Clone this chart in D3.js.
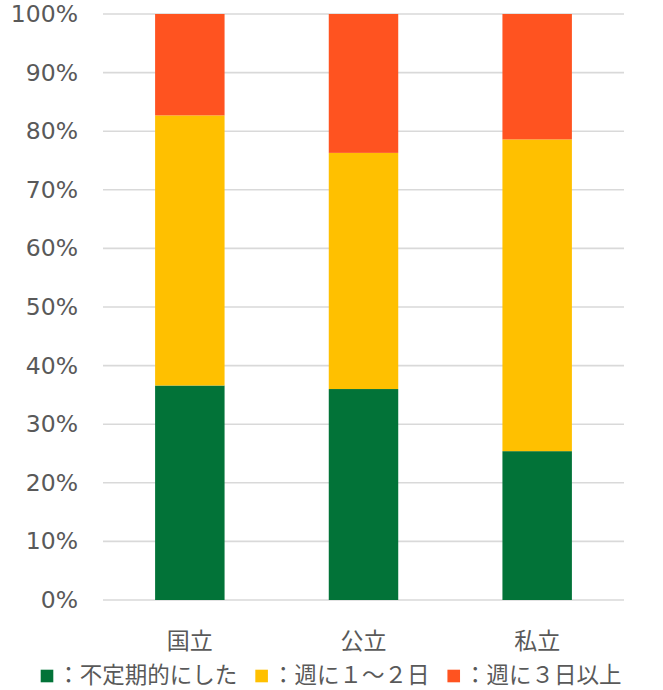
<!DOCTYPE html>
<html><head><meta charset="utf-8">
<script src="https://cdn.jsdelivr.net/npm/d3@7"></script>
<style>
html,body{margin:0;padding:0;background:#fff;}
svg{display:block;}
</style></head>
<body>
<svg id="chart" width="663" height="690"></svg>
<script>
const categories = ["国立", "公立", "私立"];
const seriesNames = ["：不定期的にした", "：週に１～２日", "：週に３日以上"];
const irregular = [36.6, 36.0, 25.4];
const weekly12 = [46.1, 40.3, 53.2];
const weekly3plus = [17.3, 23.7, 21.4];
const tickValues = [0, 10, 20, 30, 40, 50, 60, 70, 80, 90, 100];
const tickLabels = ["0%", "10%", "20%", "30%", "40%", "50%", "60%", "70%", "80%", "90%", "100%"];
const colors = ["#027338", "#FFC000", "#FF5320"];

const svg = d3.select("#chart");
const margin = {left: 103, right: 39, top: 14, bottom: 90};
const W = 663, H = 690;

const y = d3.scaleLinear().domain([0, 100]).range([H - margin.bottom, margin.top]);
const x = d3.scaleBand().domain(categories).range([margin.left, W - margin.right])
  .paddingInner(0.6).paddingOuter(0.3);

// gridlines
svg.append("g").selectAll("line").data(tickValues).join("line")
  .attr("x1", margin.left).attr("x2", W - margin.right)
  .attr("y1", d => y(d)).attr("y2", d => y(d))
  .attr("stroke", "#d9d9d9").attr("stroke-width", 1.6);

// y tick labels
svg.append("g").selectAll("text").data(tickValues).join("text")
  .attr("x", 78).attr("y", d => y(d))
  .attr("text-anchor", "end").attr("dominant-baseline", "central")
  .attr("font-family", "'DejaVu Sans', Verdana, sans-serif")
  .attr("font-size", 23.5).attr("fill", "#595959")
  .text((d, i) => tickLabels[i]);

// stacked data
const table = categories.map((c, i) => ({cat: c, s0: irregular[i], s1: weekly12[i], s2: weekly3plus[i]}));
const stack = d3.stack().keys(["s0", "s1", "s2"])(table);

svg.append("g").selectAll("g").data(stack).join("g")
  .attr("fill", (d, i) => colors[i])
  .selectAll("rect").data(d => d).join("rect")
  .attr("x", d => x(d.data.cat))
  .attr("width", x.bandwidth())
  .attr("y", d => y(Math.min(100, d[1])))
  .attr("height", d => y(d[0]) - y(Math.min(100, d[1])));

// category labels
svg.append("g").selectAll("text").data(categories).join("text")
  .attr("x", d => x(d) + x.bandwidth() / 2).attr("y", 639)
  .attr("text-anchor", "middle").attr("dominant-baseline", "central")
  .attr("font-family", "'Noto Sans CJK JP', sans-serif")
  .attr("font-size", 23).attr("fill", "#595959")
  .text(d => d);

// legend
const leg = svg.append("g");
let lx = 40.7;
const ly = 673, sq = 12.6;
seriesNames.forEach((name, i) => {
  leg.append("rect").attr("x", lx).attr("y", ly + 3 - sq / 2).attr("width", sq).attr("height", sq)
    .attr("fill", colors[i]);
  const t = leg.append("text").attr("x", lx + sq + 4).attr("y", ly)
    .attr("dominant-baseline", "central")
    .attr("font-family", "'Noto Sans CJK JP', sans-serif")
    .attr("font-size", 22.5).attr("fill", "#595959").text(name);
  lx += sq + 4 + t.node().getComputedTextLength() + 18;
});
</script>
</body></html>
